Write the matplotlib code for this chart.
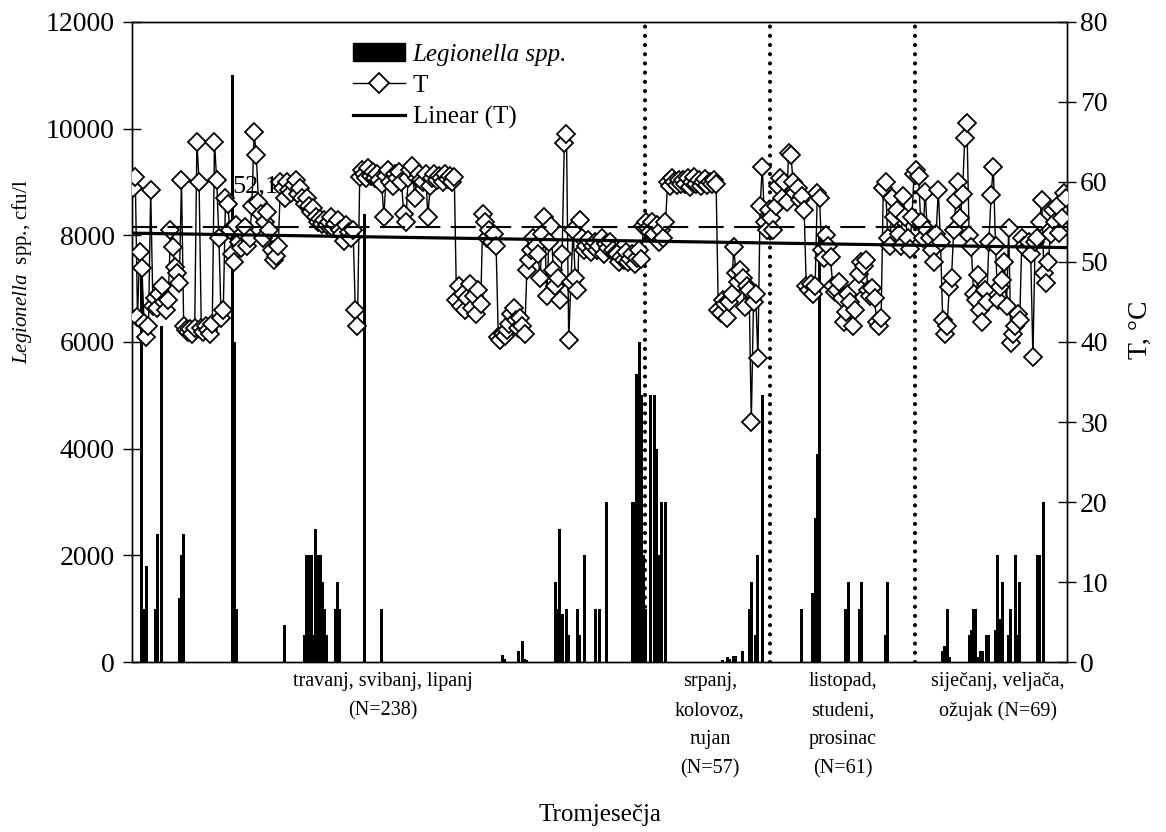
import matplotlib
matplotlib.use('Agg')
import matplotlib.pyplot as plt
import numpy as np
from matplotlib.lines import Line2D
from matplotlib.patches import Patch
import matplotlib.transforms as mtransforms

plt.rcParams['font.family'] = ['Liberation Serif', 'DejaVu Serif']
plt.rcParams['mathtext.fontset'] = 'custom'
plt.rcParams['mathtext.rm'] = 'Liberation Serif'
plt.rcParams['mathtext.it'] = 'Liberation Serif:italic'

# ---------------- data ----------------
temperature = [
    59.3, 60.6, 43.1, 51.3, 49.3, 42.4, 40.6, 42.0, 59.0, 44.5,
    45.5, 44.2, 46.0, 47.0, 45.0, 44.0, 45.3, 54.0, 51.9, 49.4,
    48.6, 47.4, 60.2, 42.0, 41.5, 41.2, 41.6, 41.0, 41.7, 65.0,
    60.0, 41.7, 41.2, 42.0, 41.5, 41.0, 42.3, 65.0, 60.2, 53.0,
    43.0, 44.0, 58.0, 57.3, 54.0, 51.0, 50.0, 54.6, 52.5, 51.8,
    53.6, 54.4, 52.0, 53.0, 57.0, 66.2, 63.4, 57.5, 56.0, 53.0,
    55.0, 56.2, 54.0, 51.5, 50.3, 50.8, 52.0, 60.0, 59.2, 58.0,
    60.0, 59.0, 58.6, 59.6, 60.2, 58.5, 59.2, 58.0, 57.3, 58.0,
    57.0, 56.3, 56.8, 55.6, 55.0, 55.4, 54.8, 55.3, 54.6, 55.0,
    55.6, 54.3, 54.8, 55.2, 54.0, 53.5, 52.6, 54.6, 53.8, 53.0,
    54.0, 44.0, 42.0, 60.6, 61.5, 61.0, 60.5, 61.8, 60.8, 61.2,
    60.5, 61.0, 60.2, 59.8, 55.6, 60.8, 61.5, 60.0, 59.5, 61.0,
    60.5, 61.2, 60.0, 56.0, 55.0, 60.5, 61.5, 62.0, 58.0, 60.5,
    61.0, 60.2, 60.0, 61.0, 55.6, 59.5, 60.5, 61.0, 60.2, 60.8,
    60.5, 60.0, 61.0, 60.4, 60.8, 60.0, 60.6, 45.2, 47.0, 44.5,
    46.0, 44.0, 45.5, 47.2, 44.2, 45.8, 43.5, 46.5, 44.8, 56.0,
    55.0, 53.0, 54.0, 52.5, 53.5, 52.0, 40.6, 40.2, 41.0, 40.8,
    41.5, 42.3, 43.5, 44.2, 42.8, 41.8, 43.0, 42.0, 41.0, 49.0,
    50.3, 51.5, 53.0, 52.0, 51.0, 48.0, 53.5, 55.6, 45.7, 52.5,
    54.5, 49.0, 47.0, 48.0, 45.3, 51.0, 64.9, 66.0, 40.2, 47.5,
    54.0, 48.0, 46.5, 55.2, 53.0, 51.5, 52.0, 52.8, 51.2, 52.0,
    52.5, 51.5, 52.0, 53.0, 51.0, 52.2, 51.8, 52.5, 51.5, 51.0,
    51.0, 50.0, 50.6, 50.2, 51.2, 50.0, 50.4, 51.0, 49.8, 50.5,
    51.5, 50.4, 54.5, 55.0, 54.2, 53.8, 55.0, 53.5, 54.6, 52.5,
    54.0, 53.0, 55.0, 60.0, 59.5, 60.5, 60.0, 59.6, 60.3, 59.8,
    60.2, 59.7, 60.5, 59.4, 60.0, 60.6, 59.8, 60.2, 59.5, 60.0,
    60.4, 59.6, 60.0, 59.8, 60.3, 59.8, 44.0, 43.6, 45.2, 44.8,
    43.0, 45.0, 46.0, 51.9, 48.6, 47.5, 49.0, 48.0, 44.4, 47.0,
    46.5, 30.0, 45.0, 46.0, 38.0, 57.0, 61.9, 55.0, 54.0, 56.5,
    55.5, 54.0, 57.0, 59.5, 60.5, 58.0, 60.0, 57.5, 63.6, 63.4,
    60.0, 58.6, 59.3, 57.7, 58.2, 56.5, 47.0, 46.5, 47.3, 46.0,
    47.0, 58.6, 58.0, 51.5, 50.5, 53.4, 52.0, 50.6, 47.0, 46.3,
    46.5, 47.5, 45.5, 42.5, 43.8, 46.0, 45.0, 42.0, 44.0, 47.0,
    48.5, 50.0, 49.5, 50.3, 46.5, 45.8, 46.8, 45.5, 42.5, 42.0,
    43.0, 59.2, 60.0, 53.0, 52.0, 58.0, 55.6, 56.5, 53.5, 52.0,
    58.2, 55.6, 53.0, 51.6, 55.6, 61.0, 61.5, 60.8, 55.0, 53.0,
    58.8, 54.0, 53.0, 51.5, 50.0, 53.5, 59.0, 52.5, 42.7, 41.0,
    42.0, 46.9, 48.0, 54.0, 57.7, 60.0, 55.5, 58.5, 65.5, 67.4,
    53.4, 51.9, 46.0, 45.3, 48.4, 44.0, 42.5, 46.5, 45.0, 52.5,
    58.4, 61.9, 52.0, 45.3, 46.9, 47.8, 50.0, 44.5, 54.2, 39.9,
    41.0, 42.0, 43.5, 42.7, 53.0, 52.0, 51.6, 52.5, 51.0, 38.1,
    52.5, 53.0, 55.0, 57.7, 48.6, 47.4, 50.0, 53.5, 56.5, 55.0,
    57.0, 53.6, 55.5, 58.6, 58.0,
]

legionella_sample = [
    4, 5, 6, 10, 11, 13, 21, 22, 23, 45, 46, 47, 69,
    78, 79, 80, 81, 82, 83, 84, 85, 86, 87, 88, 92, 93, 94, 105, 113,
    168, 169, 175, 177, 178, 179, 192, 193, 194, 195, 197, 198, 202, 203,
    205, 210, 212, 215, 227, 228, 229, 230, 231, 232, 233, 235, 237, 238,
    239, 240, 242, 268, 270, 271, 273, 274, 277, 280, 281, 283, 284, 286,
    304, 309, 310, 311, 312, 324, 325, 330, 331, 342, 343,
    368, 369, 370, 371, 380, 381, 382, 383, 384, 385, 386, 388, 389,
    392, 393, 394, 395, 398, 399, 401, 402, 403, 411, 412, 414,
]
legionella_cfu = [
    7800, 1000, 1800, 1000, 2400, 6300, 1200, 2000, 2400, 11000, 6000, 1000, 700,
    500, 2000, 2000, 2000, 500, 2500, 2000, 2000, 1500, 1000, 500, 1000, 1500, 1000, 8400, 1000,
    130, 60, 200, 400, 60, 30, 1500, 1000, 2500, 900, 1000, 500, 1000, 500,
    2000, 1000, 1000, 3000, 3000, 3000, 5400, 6000, 5000, 2000, 1000, 5000, 5000, 4000,
    2000, 3000, 3000, 30, 100, 60, 120, 120, 200, 1000, 1500, 500, 2000, 5000,
    1000, 1300, 2700, 3900, 8000, 1000, 1500, 1000, 1500, 500, 1500,
    200, 300, 1000, 100, 500, 600, 1000, 1000, 100, 200, 200, 500, 500,
    600, 2000, 800, 1500, 500, 1000, 2000, 500, 1500, 2000, 2000, 3000,
]

quarter_labels = [
    "travanj, svibanj, lipanj\n(N=238)",
    "srpanj,\nkolovoz,\nrujan\n(N=57)",
    "listopad,\nstudeni,\nprosinac\n(N=61)",
    "siječanj, veljača,\nožujak (N=69)",
]
quarter_bounds = [232.5, 289.5, 355.5]
trend_T = [53.6, 51.8]
ref_level = 54.4
ref_label = "52,1"

# ---------------- figure ----------------
n = len(temperature)
x = np.arange(n)
legion = np.zeros(n)
legion[np.array(legionella_sample)] = legionella_cfu

fig = plt.figure(figsize=(11.66, 8.32), dpi=100)
ax = fig.add_axes([0.1132, 0.2043, 0.8019, 0.7693])

ax.bar(x, legion, width=1.3, color='black', linewidth=0, zorder=2)
for b in quarter_bounds:
    ax.axvline(b, color='black', lw=3, linestyle=(0, (0.01, 2.2)),
               dash_capstyle='round', zorder=3)
ax.set_xlim(-0.5, n - 0.5)
ax.set_ylim(0, 12000)
ax.set_yticks(np.arange(0, 12001, 2000))
ax.set_xticks([])
ax.tick_params(axis='y', direction='inout', length=13, width=1,
               labelsize=20, pad=6)

ax2 = ax.twinx()
ax2.plot(x, temperature, color='black', lw=1, marker='D', ms=8.8,
         mfc='white', mec='black', mew=1.3, zorder=4)
ax2.axhline(ref_level, color='black', lw=1.5, linestyle=(0, (12, 5)), zorder=5)
ax2.plot([x[0], x[-1]], trend_T, color='black', lw=2.3, zorder=6)
ax2.set_ylim(0, 80)
ax2.set_yticks(np.arange(0, 81, 10))
ax2.tick_params(axis='y', direction='inout', length=13, width=1,
                labelsize=20, pad=3)
ax2.text(45, 59.4, ref_label, fontsize=19, va='center', ha='left', zorder=7)

for a in (ax, ax2):
    for s in a.spines.values():
        s.set_linewidth(1)

# category labels under the axis
trans = mtransforms.blended_transform_factory(ax.transData, ax.transAxes)
label_x = [113.6, 262.2, 322.7, 393.1]
for lx, txt in zip(label_x, quarter_labels):
    ax.text(lx, -0.016, txt, transform=trans, ha='center', va='top',
            fontsize=14.5, linespacing=1.7)

fig.text(600 / 1166, 1 - 815 / 832, 'Tromjesečja', ha='center', va='center',
         fontsize=18)
fig.text(22 / 1166, 1 - 272 / 832, r'$\mathit{Legionella}$  spp., cfu/l',
         rotation=90, ha='center', va='center', fontsize=15)
fig.text(1140 / 1166, 1 - 330 / 832, 'T, °C', rotation=90, ha='center',
         va='center', fontsize=20)

handles = [
    Patch(facecolor='black', edgecolor='black'),
    Line2D([], [], color='black', lw=1, marker='D', ms=10, mfc='white',
           mec='black', mew=1.3),
    Line2D([], [], color='black', lw=2.3),
]
leg = ax2.legend(handles, ['Legionella spp.', 'T', 'Linear (T)'],
                 loc='upper left', bbox_to_anchor=(0.236, 0.967),
                 frameon=False, fontsize=18, handlelength=2.1,
                 handleheight=0.7, handletextpad=0.3, labelspacing=0.35,
                 borderaxespad=0, borderpad=0)
leg.get_texts()[0].set_fontstyle('italic')

fig.savefig('out.png', dpi=100)
